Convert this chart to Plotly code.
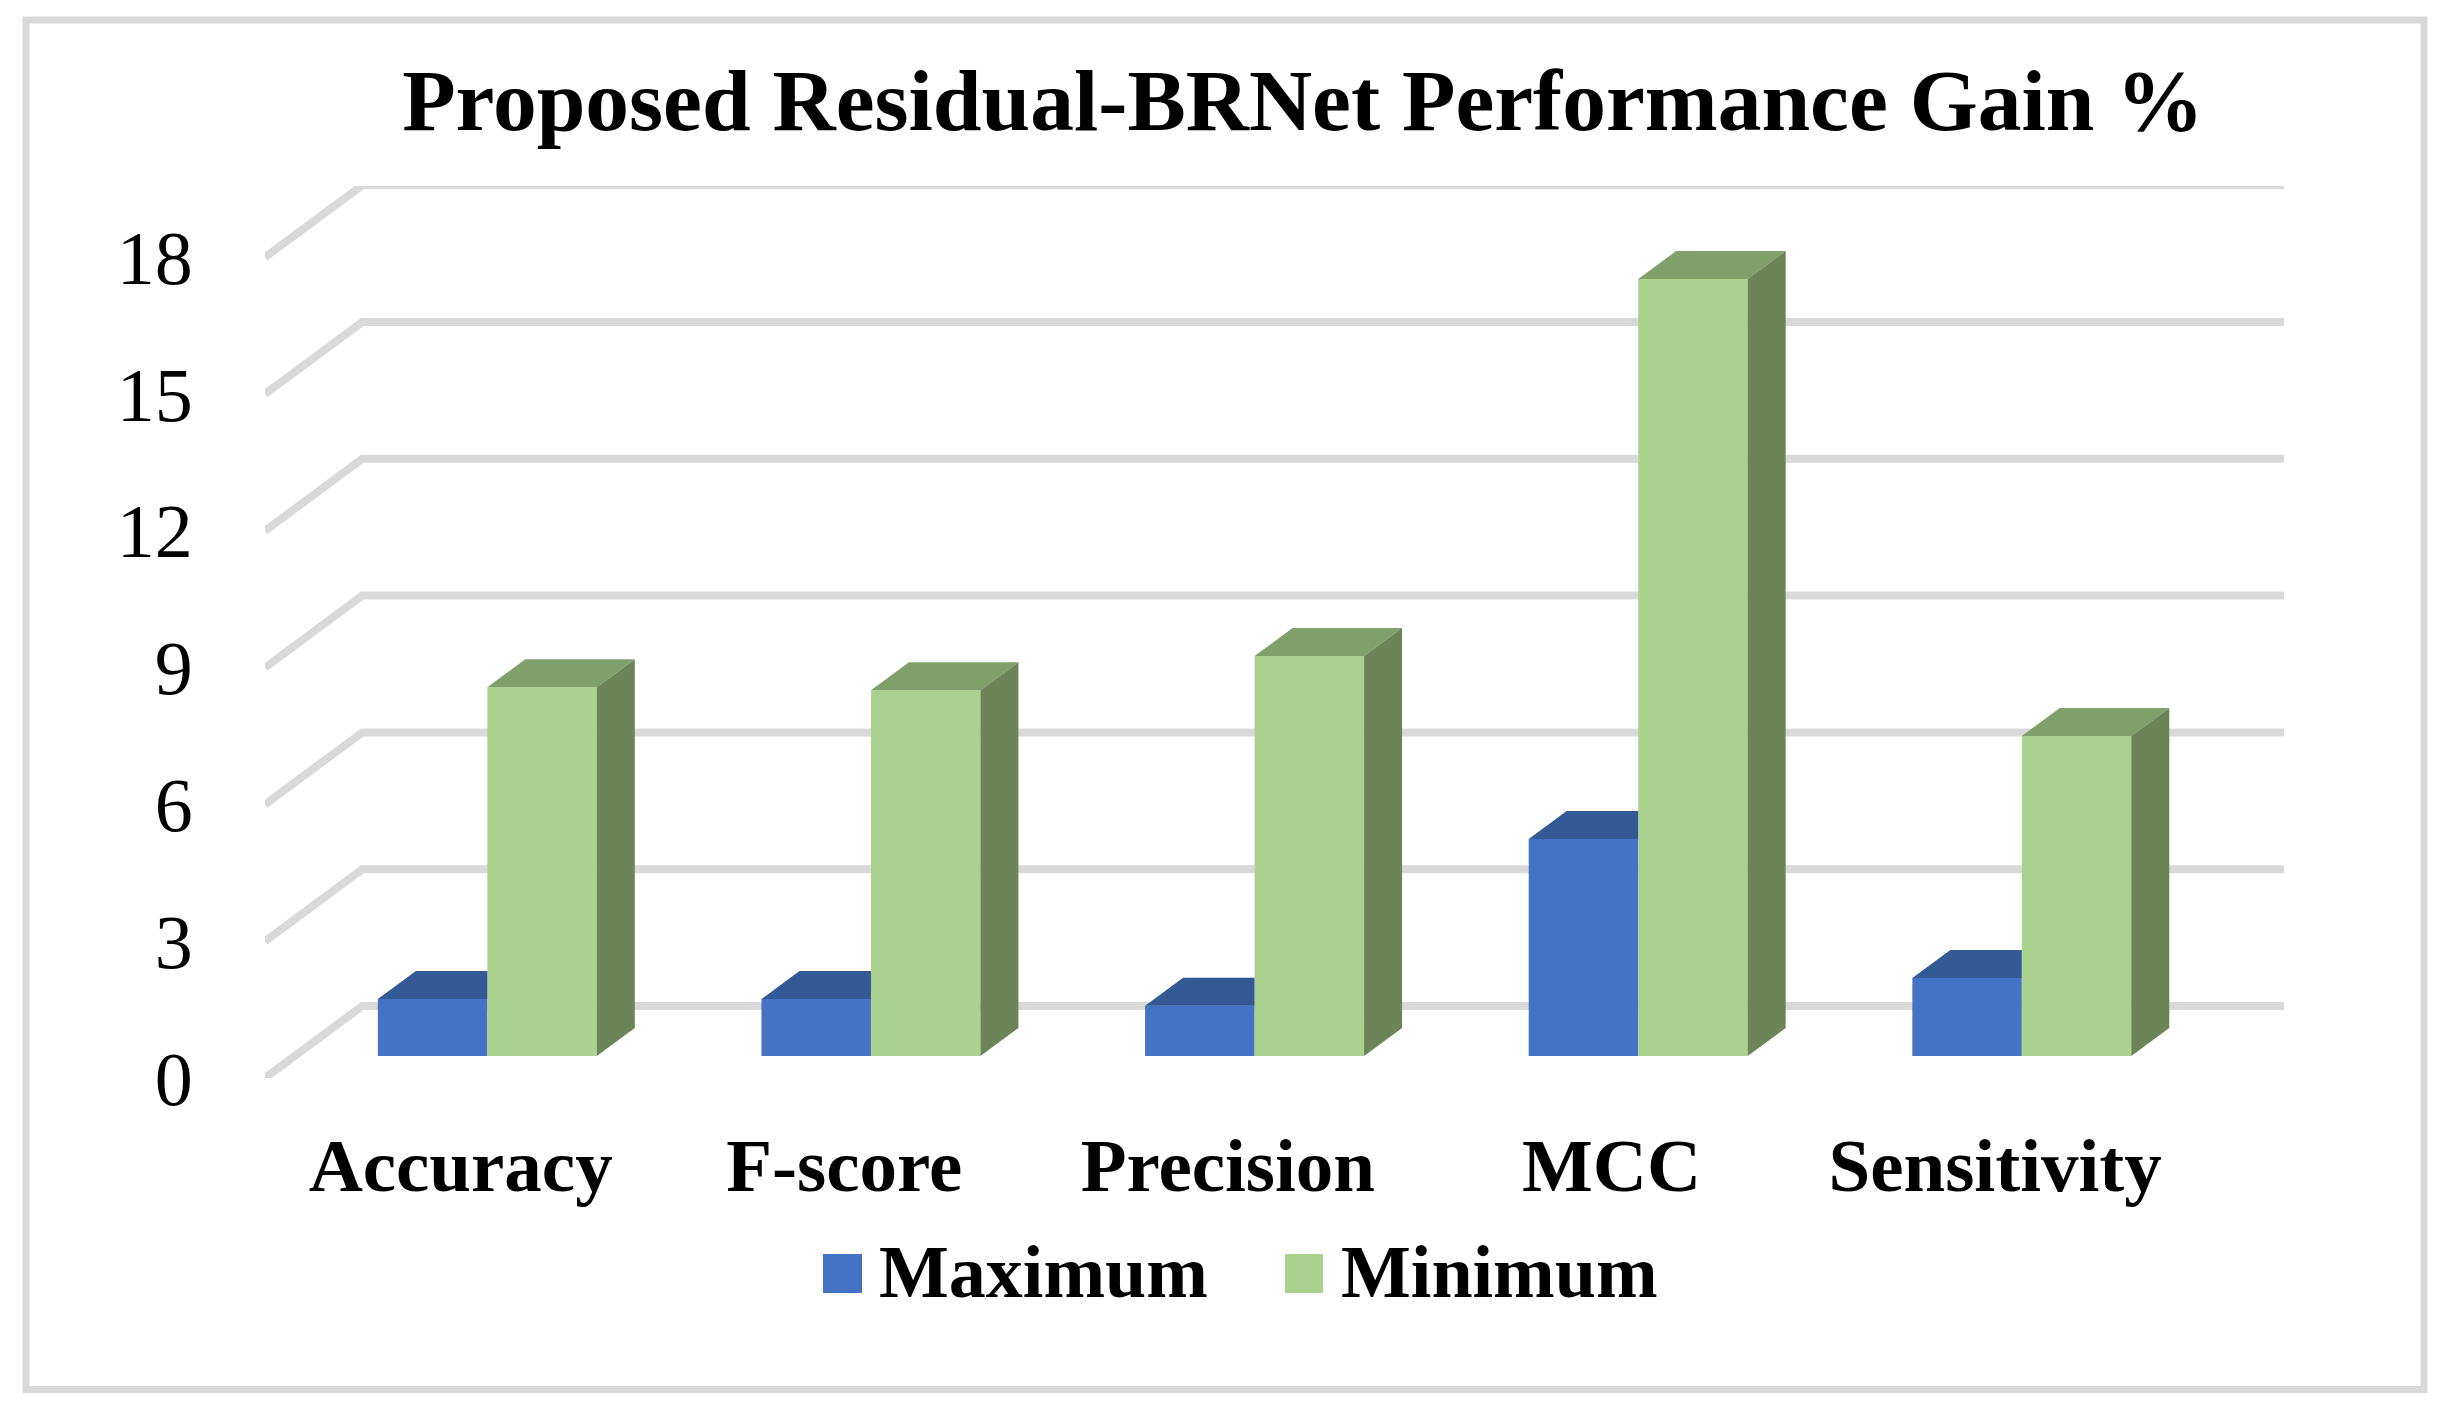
import plotly.graph_objects as go

categories = ["Accuracy", "F-score", "Precision", "MCC", "Sensitivity"]
maximum = [1.25, 1.25, 1.10, 4.76, 1.71]
minimum = [8.09, 8.02, 8.77, 17.04, 7.02]
y_ticks = [0, 3, 6, 9, 12, 15, 18]

BLUE, BLUE_TOP = "#4472C4", "#345A96"
GREEN, GREEN_TOP, GREEN_SIDE = "#AAD18E", "#7F9F6B", "#6B8559"
GRID = "#D9D9D9"
SERIF = "Liberation Serif"

OFF = 8  # the page's own margin around the figure
W, H = 2450 - 2 * OFF, 1417 - 2 * OFF
L, R, T, B = 265 - OFF, 2284 - OFF, 186 - OFF, 1078 - OFF
X0, X1 = -0.5, 4.763
Y0, Y1 = -0.482, 19.08
FLOOR_DX, FLOOR_DY = 0.2537, 1.579     # full depth of the 3D floor
BAR_DX, BAR_DY = 0.099, 0.614          # depth of a bar
BAR_W, BAR_SHIFT = 0.2854, 0.0796


def xp(px):
    return (px - OFF - L) / (R - L)


def yp(py):
    return (B - (py - OFF)) / (B - T)


fig = go.Figure()
xs = list(range(len(categories)))

# Front faces
fig.add_trace(go.Bar(x=[i + BAR_SHIFT - BAR_W / 2 for i in xs], y=maximum, width=BAR_W,
                     marker=dict(color=BLUE, line=dict(width=0)), name="Maximum", showlegend=False))
fig.add_trace(go.Bar(x=[i + BAR_SHIFT + BAR_W / 2 for i in xs], y=minimum, width=BAR_W,
                     marker=dict(color=GREEN, line=dict(width=0)), name="Minimum", showlegend=False))


def face(px, py, color):
    fig.add_trace(go.Scatter(x=px, y=py, mode="lines", fill="toself", fillcolor=color,
                             line=dict(width=0, color=color), hoverinfo="skip", showlegend=False))


for i in xs:
    a = i + BAR_SHIFT - BAR_W
    m = i + BAR_SHIFT
    b = i + BAR_SHIFT + BAR_W
    v = maximum[i]
    # visible part of the blue top (its right end is hidden behind the green bar)
    face([a, m, m, a + BAR_DX, a], [v, v, v + BAR_DY, v + BAR_DY, v], BLUE_TOP)
    v = minimum[i]
    face([m, b, b + BAR_DX, m + BAR_DX, m], [v, v, v + BAR_DY, v + BAR_DY, v], GREEN_TOP)
    face([b, b + BAR_DX, b + BAR_DX, b, b], [0, BAR_DY, v + BAR_DY, v, 0], GREEN_SIDE)

shapes = []
# 3D gridlines: front diagonal and back wall line
for t in y_ticks:
    yf = t + Y0
    yb = yf + FLOOR_DY
    xb = X0 + FLOOR_DX
    path = f"M {X0},{yf} L {xb},{yb} L {X1},{yb}"
    shapes.append(dict(type="path", path=path, xref="x", yref="y", layer="below",
                       line=dict(color=GRID, width=8)))

# Outer frame
shapes.append(dict(type="rect", xref="paper", yref="paper",
                   x0=xp(26), x1=xp(2424), y0=yp(1389.5), y1=yp(20),
                   line=dict(color=GRID, width=7), fillcolor="rgba(0,0,0,0)", layer="below"))

# Legend swatches
for x0, x1, c in [(823, 862, BLUE), (1285, 1323, GREEN)]:
    shapes.append(dict(type="rect", xref="paper", yref="paper", x0=xp(x0), x1=xp(x1),
                       y0=yp(1293), y1=yp(1254), fillcolor=c, line=dict(width=0)))

annotations = [
    dict(text="<b>Maximum</b>", xref="paper", yref="paper", x=xp(877), y=yp(1271.5), xanchor="left",
         yanchor="middle", showarrow=False, font=dict(family=SERIF, size=74, color="black")),
    dict(text="<b>Minimum</b>", xref="paper", yref="paper", x=xp(1339), y=yp(1271.5), xanchor="left",
         yanchor="middle", showarrow=False, font=dict(family=SERIF, size=74, color="black")),
]

fig.update_layout(
    width=W, height=H, autosize=False,
    margin=dict(l=L, r=W - R, t=T, b=H - B, pad=0),
    paper_bgcolor="white", plot_bgcolor="white",
    barmode="overlay", showlegend=False,
    title=dict(text="<b>Proposed Residual-BRNet Performance Gain %</b>",
               x=(1303 - OFF) / W, y=1 - (99 - OFF) / H, xanchor="center", yanchor="middle",
               font=dict(family=SERIF, size=87.5, color="black")),
    xaxis=dict(range=[X0, X1], tickmode="array", tickvals=[i + 0.01 for i in xs], ticktext=[f"<b>{c}</b>" for c in categories],
               showgrid=False, zeroline=False, showline=False,
               ticks="outside", ticklen=22, tickcolor="rgba(0,0,0,0)", tickwidth=1,
               tickangle=0, tickfont=dict(family=SERIF, size=75, color="black")),
    yaxis=dict(range=[Y0, Y1], tickmode="array", tickvals=[t + Y0 for t in y_ticks],
               ticktext=[str(t) for t in y_ticks],
               showgrid=False, zeroline=False, showline=False,
               ticks="outside", ticklen=56, tickcolor="rgba(0,0,0,0)", tickwidth=1,
               tickfont=dict(family=SERIF, size=76, color="black")),
    shapes=shapes, annotations=annotations,
)

fig.write_html("out.html")
